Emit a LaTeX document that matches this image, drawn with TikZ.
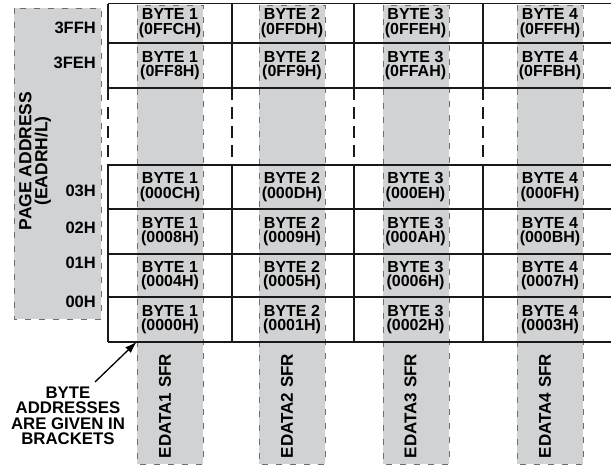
\documentclass[tikz,border=0pt]{standalone}
\usepackage{fontspec}
\setmainfont{Liberation Sans}
\usetikzlibrary{arrows.meta}

\definecolor{sfrgrey}{HTML}{D1D2D4}
\definecolor{edgegrey}{HTML}{6D6E70}

\begin{document}
\begin{tikzpicture}[
    x=1pt, y=-1pt,
    >={Latex[length=12pt, width=8pt]},
    grid/.style={draw=black!90, line width=1.3pt},
    gapline/.style={grid, dash pattern=on 12pt off 7pt},
    sfr_column/.style={fill=sfrgrey, draw=edgegrey, line width=0.8pt, dash pattern=on 6pt off 8pt},
    cell_text/.style={font=\fontsize{16}{14.5}\selectfont\bfseries, align=center,
        minimum width=66pt, minimum height=44pt, inner sep=0pt},
    page_label/.style={font=\fontsize{16.5}{16}\selectfont\bfseries, anchor=east, inner sep=0pt},
    label_text/.style={font=\fontsize{16.8}{15.5}\selectfont\bfseries, align=center, inner sep=0pt}
]
    \useasboundingbox (0,0) rectangle (611,467);

    % === 1. Grey columns ===
    \draw[sfr_column] (14,8) rectangle (101,319);
    \foreach \cx in {137, 259, 383, 517}
        \draw[sfr_column] (\cx,5) rectangle ++(66,459);

    % === 2. Page grid ===
    \foreach \y in {3.5, 43, 88, 165, 209, 254, 297, 342}
        \draw[grid] (108,\y) -- (611,\y);
    \foreach \x in {108, 232, 354, 483} {
        \draw[grid] (\x,3.5) -- (\x,88);
        \draw[gapline] (\x,88) -- (\x,165);
        \draw[grid] (\x,165) -- (\x,342);
    }

    % === 3. Byte cells and page addresses ===
    \foreach \pg/\cy/\ly/\addrs in {
        3FF/23/27.5/{0FFC,0FFD,0FFE,0FFF},
        3FE/65.5/63/{0FF8,0FF9,0FFA,0FFB},
        03/187/191/{000C,000D,000E,000F},
        02/231.5/228/{0008,0009,000A,000B},
        01/275.5/263/{0004,0005,0006,0007},
        00/319.5/302/{0000,0001,0002,0003}} {
        \node[page_label] (p\pg) at (96,\ly) {\pg H};
        \foreach \addr [count=\col] in \addrs {
            \pgfmathsetmacro\cx{{170,292,415.5,550}[\col-1]}
            \node[cell_text] (b\col-\pg) at (\cx,\cy) {BYTE \col\\(\addr H)};
        }
    }

    % === 4. Labels ===
    \node[label_text, font=\fontsize{17.5}{16}\selectfont\bfseries, rotate=90] (title) at (35,161) {PAGE ADDRESS\\(EADRH/L)};
    \foreach \col/\cx in {1/165, 2/287, 3/410.5, 4/545}
        \node[label_text, font=\fontsize{17}{16}\selectfont\bfseries, rotate=90] (sfr\col) at (\cx,406) {EDATA\col\ SFR};

    % Note with arrow
    \node[label_text] (note) at (68,416) {BYTE\\ADDRESSES\\ARE GIVEN IN\\BRACKETS};
    \coordinate (tail) at (95,382);
    \draw[->, line width=1.3pt] (tail) -- (b1-00.south west);

\end{tikzpicture}
\end{document}
